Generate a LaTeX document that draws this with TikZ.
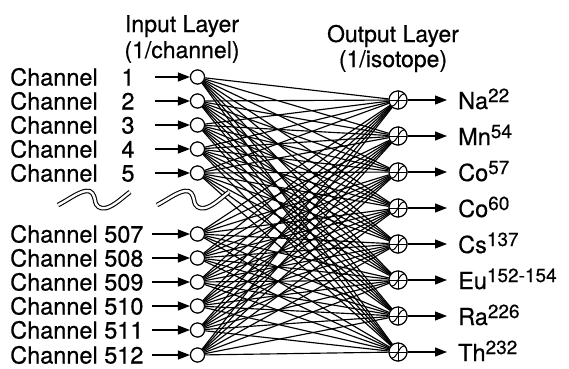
\documentclass[tikz,border=0pt]{standalone}
\usepackage{fontspec}
\setmainfont{TeX Gyre Heros}[FakeBold=0.5]
\usetikzlibrary{arrows.meta}
\newcommand{\isup}[1]{\raisebox{7pt}{\fontsize{19}{19}\selectfont #1}}
\begin{document}
\begin{tikzpicture}[x=1pt,y=-1pt,
 txt/.style={font=\fontsize{23.5}{24}\selectfont, inner sep=0pt},
 ttl/.style={font=\fontsize{23}{26}\selectfont, inner sep=0pt, anchor=base},
 innode/.style={circle,draw,line width=1.1pt,minimum size=14pt,inner sep=0pt,fill=white},
 outnode/.style={circle,draw,line width=1.1pt,minimum size=18pt,inner sep=0pt,fill=white},
 conn/.style={line width=1.15pt},
 arr/.style={line width=1.1pt,-{Triangle[length=12pt,width=9pt]}},
 brk/.style={double,double distance=2.4pt,line width=1.1pt}
]
\useasboundingbox (0,0) rectangle (569,368);
% titles
\node[ttl] (tin1) at (182,32) {Input Layer};
\node[ttl] (tin2) at (182,58) {(1/channel)};
\node[ttl] (tout1) at (393,42) {Output Layer};
\node[ttl] (tout2) at (393,67) {(1/isotope)};
% input nodes
\foreach \n/\y in {1/77,2/101,3/125,4/149,5/173}{
  \node[innode] (i\n) at (197.5,\y) {};
  \node[txt,anchor=base west] (c\n) at (10,\y+8.5) {Channel};
  \node[txt,anchor=base] (n\n) at (128,\y+8.5) {\n};
  \coordinate (s\n) at (155,\y);
}
\foreach \k/\n/\y in {6/507/234,7/508/258,8/509/282,9/510/306,10/511/330,11/512/355}{
  \node[innode] (i\k) at (197.5,\y) {};
  \node[txt,anchor=base west] (c\k) at (10,\y+8.5) {Channel \n};
  \coordinate (s\k) at (152,\y);
}
% output nodes
\foreach \k/\y/\lab in {1/100/{Na\isup{22}},2/136/{Mn\isup{54}},3/172/{Co\isup{57}},4/208/{Co\isup{60}},5/244/{Cs\isup{137}},6/280/{Eu\isup{152-154}},7/316/{Ra\isup{226}},8/352/{Th\isup{232}}}{
  \node[outnode] (o\k) at (398,\y) {};
  \coordinate (t\k) at (447,\y);
  \node[txt,anchor=base west] (l\k) at (458,\y+9) {\lab};
}
% connections
\foreach \a in {1,...,11}{
  \foreach \b in {1,...,8}{
    \draw[conn] (i\a) -- (o\b);
  }
}
% redraw nodes on top
\foreach \a in {1,...,11}{
  \draw[line width=1.1pt,fill=white] (i\a.center) circle (7);
  \draw[arr] (s\a) -- (i\a);
}
\foreach \b in {1,...,8}{
  \draw[line width=1.1pt,fill=white] (o\b.center) circle (9);
  \begin{scope}[shift={(o\b.center)}]
    \draw[line width=0.8pt] (-9,0) -- (9,0);
    \draw[line width=0.8pt] (0,-9) -- (0,9);
    \draw[line width=1pt] (-6,6) .. controls (-1,6) and (1,-6) .. (6,-6);
  \end{scope}
  \draw[arr] (o\b) -- (t\b);
}
% break marks
\draw[brk] (58,205) .. controls (68,200) and (78,192) .. (86,191) .. controls (92,190) and (94,195) .. (95,200) .. controls (96,207) and (100,209) .. (106,208) .. controls (114,206) and (122,198) .. (130,192);
\draw[brk] (157,205) .. controls (167,200) and (177,192) .. (185,191) .. controls (191,190) and (193,195) .. (194,200) .. controls (195,207) and (199,209) .. (205,208) .. controls (213,206) and (221,198) .. (229,192);
\end{tikzpicture}
\end{document}
